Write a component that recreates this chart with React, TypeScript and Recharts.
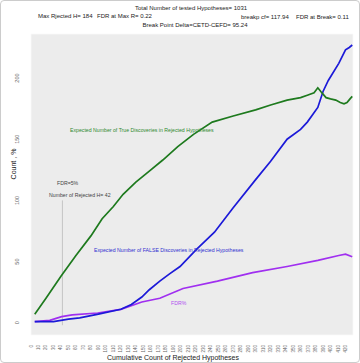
import { LineChart, Line, XAxis, YAxis, CartesianGrid, ReferenceLine } from "recharts";

const trueX = [5, 20, 40, 60, 80, 95, 110, 123, 140, 158, 176, 196, 217, 242, 270, 300, 320, 342, 360, 369, 378, 383, 387, 394, 400, 407, 413, 418, 422, 426, 429];
const trueY = [7, 20, 38, 55, 71, 85, 95, 105, 115, 124, 133, 144, 154, 164, 169, 174, 178, 182, 184, 186, 188, 192, 189, 184, 183, 182, 180, 179, 180, 183, 185];

const falseX = [5, 30, 50, 65, 90, 120, 134, 148, 158, 172, 185, 199, 221, 245, 270, 300, 320, 342, 360, 369, 383, 390, 397, 411, 420, 425, 429];
const falseY = [1, 1, 3, 4, 7, 11, 15, 21, 27, 34, 40, 46, 60, 74, 94, 117, 132, 150, 158, 164, 176, 189, 198, 212, 223, 225, 227];

const fdrX = [5, 25, 41, 55, 89, 120, 148, 172, 203, 249, 296, 342, 383, 411, 420, 429];
const fdrY = [1, 2, 5, 6.5, 8, 11, 17, 20, 28, 34, 41, 46, 51, 55, 56, 54];

const xTicks = [0, 10, 20, 30, 40, 50, 60, 70, 80, 90, 100, 110, 120, 130, 140, 150, 160, 170, 180, 190, 200, 210, 220, 230, 240, 250, 260, 270, 280, 290, 300, 310, 320, 330, 340, 350, 360, 370, 380, 390, 400, 410, 420];
const yTicks = [0, 50, 100, 150, 200];
const gridX = [0, 40, 80, 120, 160, 200, 240, 280, 320, 360, 400];
const gridY = [0, 25, 50, 75, 100, 125, 150, 175, 200, 225];

const toPts = (xs: number[], ys: number[]) => xs.map((x, i) => ({ x, y: ys[i] }));
const truePts = toPts(trueX, trueY);
const falsePts = toPts(falseX, falseY);
const fdrPts = toPts(fdrX, fdrY);

const font = "'Liberation Sans', Arial, sans-serif";

const XTick = ({ x, y, payload }: any) => (
  <text
    x={x}
    y={y + 2}
    transform={`rotate(-90 ${x} ${y + 2})`}
    textAnchor="end"
    dominantBaseline="central"
    fontSize={4.5}
    fill="#666"
    fontFamily={font}
  >
    {payload.value}
  </text>
);

const YTick = ({ x, y, payload }: any) => (
  <text
    x={x - 4}
    y={y}
    transform={`rotate(-90 ${x - 4} ${y})`}
    textAnchor="middle"
    fontSize={5.5}
    fill="#666"
    fontFamily={font}
  >
    {payload.value}
  </text>
);

const T = ({ x, y, c = "#222", s = 6, children, center = false }: any) => (
  <div
    style={{
      position: "absolute",
      left: x,
      top: y,
      fontSize: s,
      color: c,
      whiteSpace: "nowrap",
      transform: center ? "translateX(-50%)" : undefined,
      lineHeight: 1,
    }}
  >
    {children}
  </div>
);

export default function App() {
  return (
    <div
      style={{
        position: "absolute",
        left: 0,
        top: 0,
        width: 358,
        height: 361,
        background: "#fff",
        border: "1px solid #ccc",
        borderRadius: 4,
        fontFamily: font,
        overflow: "hidden",
      }}
    >
      <LineChart width={358} height={361} margin={{ top: 33, right: 6, left: 0, bottom: 7 }}>
        <XAxis xAxisId="g" type="number" dataKey="x" domain={[0, 430]} ticks={gridX} hide />
        <YAxis yAxisId="g" type="number" domain={[-10, 236]} ticks={gridY} hide />
        <CartesianGrid xAxisId="g" yAxisId="g" fill="#ececec" stroke="#fafafa" strokeWidth={0.8} />
        <XAxis
          type="number"
          dataKey="x"
          domain={[0, 430]}
          ticks={xTicks}
          interval={0}
          tick={<XTick />}
          tickLine={false}
          axisLine={false}
          height={20}
          allowDuplicatedCategory={false}
        />
        <YAxis
          type="number"
          domain={[-10, 236]}
          ticks={yTicks}
          tick={<YTick />}
          tickLine={false}
          axisLine={false}
          width={30}
        />
        <ReferenceLine
          segment={[
            { x: 42, y: -2 },
            { x: 42, y: 100 },
          ]}
          stroke="#b5b5b5"
          strokeWidth={0.7}
          ifOverflow="visible"
        />
        <Line data={fdrPts} dataKey="y" type="linear" stroke="#a02ff0" strokeWidth={1.7} dot={false} isAnimationActive={false} />
        <Line data={falsePts} dataKey="y" type="linear" stroke="#1c1ad8" strokeWidth={1.7} dot={false} isAnimationActive={false} />
        <Line data={truePts} dataKey="y" type="linear" stroke="#1e7a1e" strokeWidth={1.7} dot={false} isAnimationActive={false} />
      </LineChart>

      <T x={190} y={4} center>Total Number of tested Hypotheses= 1031</T>
      <T x={37} y={12}>Max Rjected H= 184</T>
      <T x={96} y={12}>FDR at Max R= 0.22</T>
      <T x={240} y={13}>breakp cf= 117.94</T>
      <T x={295} y={13}>FDR at Break= 0.11</T>
      <T x={194} y={21} center>Break Point Delta=CETD-CEFD= 95.24</T>

      <T x={69} y={127} c="#2f8a2f" s={5.2}>Expected Number of True Discoveries in Rejected Hypotheses</T>
      <T x={56} y={180} c="#444" s={5.2}>FDR=5%</T>
      <T x={48} y={192} c="#444" s={5.2}>Number of Rejected H= 42</T>
      <T x={93} y={247} c="#3030d0" s={5.2}>Expected Number of FALSE Discoveries in Rejected Hypotheses</T>
      <T x={170} y={300} c="#b04ff0" s={5.2}>FDR%</T>

      <T x={172} y={353} center s={7}>Cumulative Count of Rejected Hypotheses</T>
      <div
        style={{
          position: "absolute",
          left: 12,
          top: 163,
          fontSize: 7,
          color: "#222",
          whiteSpace: "nowrap",
          transform: "translate(-50%, -50%) rotate(-90deg)",
        }}
      >
        Count , %
      </div>
    </div>
  );
}
